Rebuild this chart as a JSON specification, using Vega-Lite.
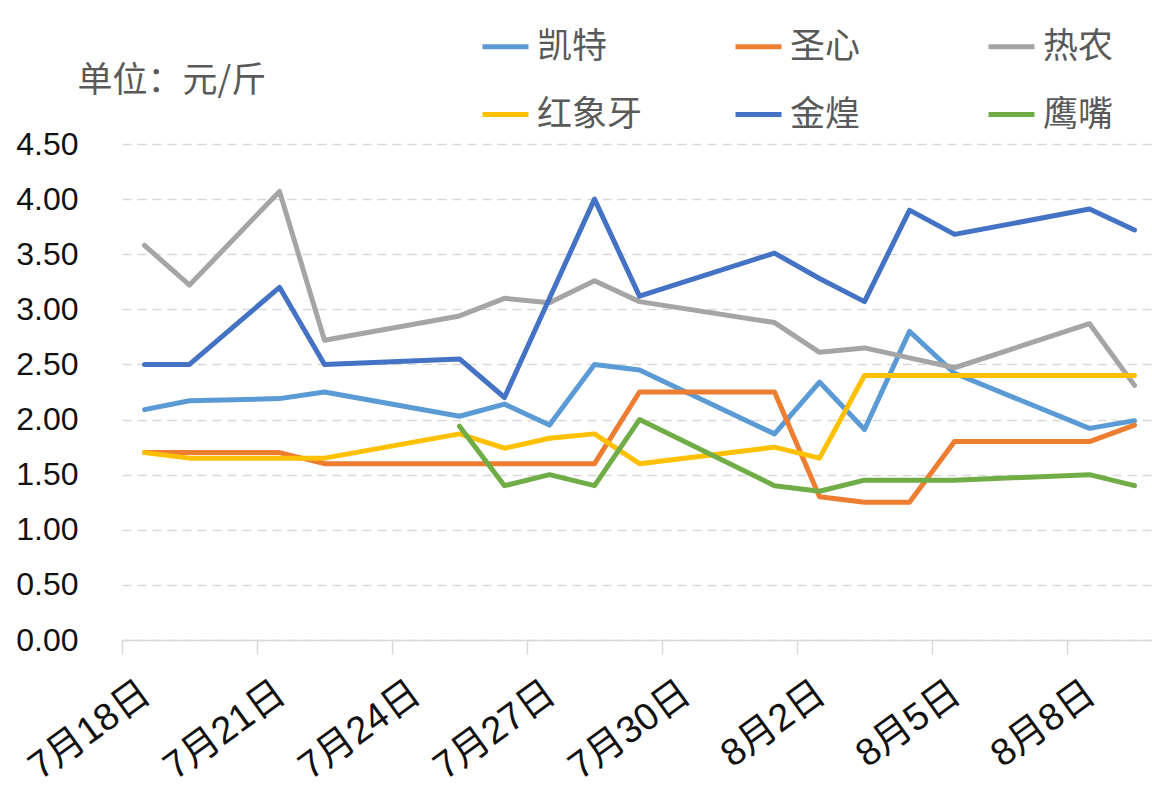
{
  "$schema": "https://vega.github.io/schema/vega-lite/v6.json",
  "autosize": {"type": "none"},
  "width": 1030,
  "height": 496,
  "padding": {"left": 122, "top": 144, "right": 0, "bottom": 171},
  "background": "white",
  "config": {"view": {"stroke": null}},
  "data": {"values": [
    {"date": "2022/07/18 12:00", "s": "凯特", "v": 2.09},
    {"date": "2022/07/19 12:00", "s": "凯特", "v": 2.17},
    {"date": "2022/07/21 12:00", "s": "凯特", "v": 2.19},
    {"date": "2022/07/22 12:00", "s": "凯特", "v": 2.25},
    {"date": "2022/07/25 12:00", "s": "凯特", "v": 2.03},
    {"date": "2022/07/26 12:00", "s": "凯特", "v": 2.14},
    {"date": "2022/07/27 12:00", "s": "凯特", "v": 1.95},
    {"date": "2022/07/28 12:00", "s": "凯特", "v": 2.50},
    {"date": "2022/07/29 12:00", "s": "凯特", "v": 2.45},
    {"date": "2022/08/01 12:00", "s": "凯特", "v": 1.87},
    {"date": "2022/08/02 12:00", "s": "凯特", "v": 2.34},
    {"date": "2022/08/03 12:00", "s": "凯特", "v": 1.91},
    {"date": "2022/08/04 12:00", "s": "凯特", "v": 2.80},
    {"date": "2022/08/05 12:00", "s": "凯特", "v": 2.42},
    {"date": "2022/08/08 12:00", "s": "凯特", "v": 1.92},
    {"date": "2022/08/09 12:00", "s": "凯特", "v": 1.99},

    {"date": "2022/07/18 12:00", "s": "圣心", "v": 1.70},
    {"date": "2022/07/19 12:00", "s": "圣心", "v": 1.70},
    {"date": "2022/07/21 12:00", "s": "圣心", "v": 1.70},
    {"date": "2022/07/22 12:00", "s": "圣心", "v": 1.60},
    {"date": "2022/07/25 12:00", "s": "圣心", "v": 1.60},
    {"date": "2022/07/26 12:00", "s": "圣心", "v": 1.60},
    {"date": "2022/07/27 12:00", "s": "圣心", "v": 1.60},
    {"date": "2022/07/28 12:00", "s": "圣心", "v": 1.60},
    {"date": "2022/07/29 12:00", "s": "圣心", "v": 2.25},
    {"date": "2022/08/01 12:00", "s": "圣心", "v": 2.25},
    {"date": "2022/08/02 12:00", "s": "圣心", "v": 1.30},
    {"date": "2022/08/03 12:00", "s": "圣心", "v": 1.25},
    {"date": "2022/08/04 12:00", "s": "圣心", "v": 1.25},
    {"date": "2022/08/05 12:00", "s": "圣心", "v": 1.80},
    {"date": "2022/08/08 12:00", "s": "圣心", "v": 1.80},
    {"date": "2022/08/09 12:00", "s": "圣心", "v": 1.95},

    {"date": "2022/07/18 12:00", "s": "热农", "v": 3.58},
    {"date": "2022/07/19 12:00", "s": "热农", "v": 3.22},
    {"date": "2022/07/21 12:00", "s": "热农", "v": 4.07},
    {"date": "2022/07/22 12:00", "s": "热农", "v": 2.72},
    {"date": "2022/07/25 12:00", "s": "热农", "v": 2.94},
    {"date": "2022/07/26 12:00", "s": "热农", "v": 3.10},
    {"date": "2022/07/27 12:00", "s": "热农", "v": 3.06},
    {"date": "2022/07/28 12:00", "s": "热农", "v": 3.26},
    {"date": "2022/07/29 12:00", "s": "热农", "v": 3.07},
    {"date": "2022/08/01 12:00", "s": "热农", "v": 2.88},
    {"date": "2022/08/02 12:00", "s": "热农", "v": 2.61},
    {"date": "2022/08/03 12:00", "s": "热农", "v": 2.65},
    {"date": "2022/08/04 12:00", "s": "热农", "v": 2.56},
    {"date": "2022/08/05 12:00", "s": "热农", "v": 2.47},
    {"date": "2022/08/08 12:00", "s": "热农", "v": 2.87},
    {"date": "2022/08/09 12:00", "s": "热农", "v": 2.31},

    {"date": "2022/07/18 12:00", "s": "红象牙", "v": 1.70},
    {"date": "2022/07/19 12:00", "s": "红象牙", "v": 1.65},
    {"date": "2022/07/21 12:00", "s": "红象牙", "v": 1.65},
    {"date": "2022/07/22 12:00", "s": "红象牙", "v": 1.65},
    {"date": "2022/07/25 12:00", "s": "红象牙", "v": 1.87},
    {"date": "2022/07/26 12:00", "s": "红象牙", "v": 1.74},
    {"date": "2022/07/27 12:00", "s": "红象牙", "v": 1.83},
    {"date": "2022/07/28 12:00", "s": "红象牙", "v": 1.87},
    {"date": "2022/07/29 12:00", "s": "红象牙", "v": 1.60},
    {"date": "2022/08/01 12:00", "s": "红象牙", "v": 1.75},
    {"date": "2022/08/02 12:00", "s": "红象牙", "v": 1.65},
    {"date": "2022/08/03 12:00", "s": "红象牙", "v": 2.40},
    {"date": "2022/08/04 12:00", "s": "红象牙", "v": 2.40},
    {"date": "2022/08/05 12:00", "s": "红象牙", "v": 2.40},
    {"date": "2022/08/08 12:00", "s": "红象牙", "v": 2.40},
    {"date": "2022/08/09 12:00", "s": "红象牙", "v": 2.40},

    {"date": "2022/07/18 12:00", "s": "金煌", "v": 2.50},
    {"date": "2022/07/19 12:00", "s": "金煌", "v": 2.50},
    {"date": "2022/07/21 12:00", "s": "金煌", "v": 3.20},
    {"date": "2022/07/22 12:00", "s": "金煌", "v": 2.50},
    {"date": "2022/07/25 12:00", "s": "金煌", "v": 2.55},
    {"date": "2022/07/26 12:00", "s": "金煌", "v": 2.20},
    {"date": "2022/07/27 12:00", "s": "金煌", "v": 3.10},
    {"date": "2022/07/28 12:00", "s": "金煌", "v": 4.00},
    {"date": "2022/07/29 12:00", "s": "金煌", "v": 3.12},
    {"date": "2022/08/01 12:00", "s": "金煌", "v": 3.51},
    {"date": "2022/08/02 12:00", "s": "金煌", "v": 3.28},
    {"date": "2022/08/03 12:00", "s": "金煌", "v": 3.07},
    {"date": "2022/08/04 12:00", "s": "金煌", "v": 3.90},
    {"date": "2022/08/05 12:00", "s": "金煌", "v": 3.68},
    {"date": "2022/08/08 12:00", "s": "金煌", "v": 3.91},
    {"date": "2022/08/09 12:00", "s": "金煌", "v": 3.72},

    {"date": "2022/07/25 12:00", "s": "鹰嘴", "v": 1.94},
    {"date": "2022/07/26 12:00", "s": "鹰嘴", "v": 1.40},
    {"date": "2022/07/27 12:00", "s": "鹰嘴", "v": 1.50},
    {"date": "2022/07/28 12:00", "s": "鹰嘴", "v": 1.40},
    {"date": "2022/07/29 12:00", "s": "鹰嘴", "v": 2.00},
    {"date": "2022/08/01 12:00", "s": "鹰嘴", "v": 1.40},
    {"date": "2022/08/02 12:00", "s": "鹰嘴", "v": 1.35},
    {"date": "2022/08/03 12:00", "s": "鹰嘴", "v": 1.45},
    {"date": "2022/08/04 12:00", "s": "鹰嘴", "v": 1.45},
    {"date": "2022/08/05 12:00", "s": "鹰嘴", "v": 1.45},
    {"date": "2022/08/08 12:00", "s": "鹰嘴", "v": 1.50},
    {"date": "2022/08/09 12:00", "s": "鹰嘴", "v": 1.40}
  ]},
  "mark": {"type": "line", "strokeWidth": 5, "strokeJoin": "round", "strokeCap": "round", "clip": false},
  "encoding": {
    "x": {
      "field": "date", "type": "temporal",
      "scale": {"domain": [{"year": 2022, "month": 7, "date": 18}, {"year": 2022, "month": 8, "date": 9, "hours": 21, "minutes": 20}]},
      "axis": {
        "title": null,
        "grid": false,
        "values": [
          {"year": 2022, "month": 7, "date": 18},
          {"year": 2022, "month": 7, "date": 21},
          {"year": 2022, "month": 7, "date": 24},
          {"year": 2022, "month": 7, "date": 27},
          {"year": 2022, "month": 7, "date": 30},
          {"year": 2022, "month": 8, "date": 2},
          {"year": 2022, "month": 8, "date": 5},
          {"year": 2022, "month": 8, "date": 8}
        ],
        "format": "%-m月%-d日",
        "labelAngle": -36,
        "labelAlign": "right",
        "labelBaseline": "top",
        "labelOffset": 13,
        "labelPadding": 20,
        "labelFont": "Liberation Sans, Noto Sans CJK SC",
        "labelFontSize": 38,
        "labelColor": "#111111",
        "labelOverlap": false,
        "labelFlush": false,
        "domainColor": "#D9D9D9",
        "domainWidth": 1.5,
        "tickColor": "#D9D9D9",
        "tickWidth": 1.5,
        "tickSize": 14
      }
    },
    "y": {
      "field": "v", "type": "quantitative",
      "scale": {"domain": [0, 4.5], "nice": false, "zero": true},
      "axis": {
        "title": "单位：元/斤",
        "titleAngle": 0,
        "titleX": -45,
        "titleY": -64,
        "titleAlign": "left",
        "titleBaseline": "middle",
        "titleFont": "Noto Sans CJK SC",
        "titleFontSize": 35,
        "titleFontWeight": "normal",
        "titleColor": "#595959",
        "values": [0, 0.5, 1, 1.5, 2, 2.5, 3, 3.5, 4, 4.5],
        "format": ".2f",
        "domain": false,
        "ticks": false,
        "tickSize": 0,
        "labelPadding": 44,
        "labelFont": "Liberation Sans",
        "labelFontSize": 32,
        "labelColor": "#111111",
        "gridColor": "#D9D9D9",
        "gridWidth": 1.5,
        "gridDash": [9, 6]
      }
    },
    "color": {
      "field": "s", "type": "nominal",
      "sort": ["凯特", "圣心", "热农", "红象牙", "金煌", "鹰嘴"],
      "scale": {
        "domain": ["凯特", "圣心", "热农", "红象牙", "金煌", "鹰嘴"],
        "range": ["#5B9BD5", "#ED7D31", "#A5A5A5", "#FFC000", "#4472C4", "#70AD47"]
      },
      "legend": {
        "title": null,
        "orient": "none",
        "direction": "horizontal",
        "legendX": 358,
        "legendY": -123,
        "columns": 3,
        "gridAlign": "all",
        "columnPadding": 82,
        "rowPadding": 24,
        "padding": 0,
        "symbolType": "stroke",
        "symbolSize": 2116,
        "symbolStrokeWidth": 5,
        "labelOffset": 6,
        "labelFont": "Noto Sans CJK SC",
        "labelFontSize": 35,
        "labelColor": "#595959",
        "labelLimit": 300
      }
    }
  }
}
